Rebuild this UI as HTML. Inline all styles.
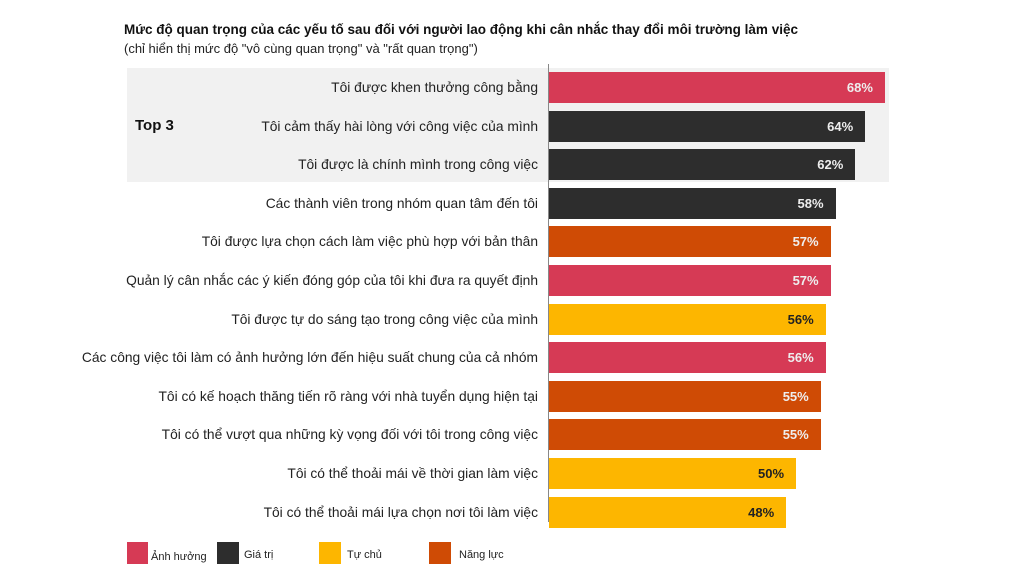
<!DOCTYPE html><html><head><meta charset="utf-8"><style>
body{margin:0;width:1024px;height:576px;background:#fff;font-family:"Liberation Sans",sans-serif;position:relative;overflow:hidden}
.a{position:absolute;white-space:nowrap}
.l{position:absolute;right:486px;font-size:13.8px;color:#222;white-space:nowrap}
.b{position:absolute;left:549px;height:31px}
.v{position:absolute;font-size:13px;font-weight:bold;white-space:nowrap}
</style></head><body>
<div class="a" style="left:124px;top:22px;font-size:13.5px;font-weight:bold;color:#111">Mức độ quan trọng của các yếu tố sau đối với người lao động khi cân nhắc thay đổi môi trường làm việc</div>
<div class="a" style="left:124px;top:41px;font-size:13px;color:#222">(chỉ hiển thị mức độ "vô cùng quan trọng" và "rất quan trọng")</div>
<div class="a" style="left:127px;top:68px;width:762px;height:114px;background:#f1f1f1"></div>
<div class="a" style="left:135px;top:117px;font-size:15px;font-weight:bold;color:#111">Top 3</div>
<div class="a" style="left:548px;top:64px;width:1px;height:458px;background:#888"></div>
<div id="c"></div>
<div class="a" style="left:127px;top:542px;width:21px;height:22px;background:#d63a55"></div>
<div class="a" style="left:151px;top:551px;font-size:11px;color:#222">Ảnh hưởng</div>
<div class="a" style="left:217px;top:542px;width:22px;height:22px;background:#2d2d2d"></div>
<div class="a" style="left:244px;top:549px;font-size:11px;color:#222">Giá trị</div>
<div class="a" style="left:319px;top:542px;width:22px;height:22px;background:#fdb600"></div>
<div class="a" style="left:347px;top:549px;font-size:11px;color:#222">Tự chủ</div>
<div class="a" style="left:429px;top:542px;width:22px;height:22px;background:#cf4b05"></div>
<div class="a" style="left:459px;top:549px;font-size:11px;color:#222">Năng lực</div>
<script>
var P="#d63a55",D="#2d2d2d",Y="#fdb600",O="#cf4b05";
var d=[["Tôi được khen thưởng công bằng",68,P],["Tôi cảm thấy hài lòng với công việc của mình",64,D],["Tôi được là chính mình trong công việc",62,D],["Các thành viên trong nhóm quan tâm đến tôi",58,D],["Tôi được lựa chọn cách làm việc phù hợp với bản thân",57,O],["Quản lý cân nhắc các ý kiến đóng góp của tôi khi đưa ra quyết định",57,P],["Tôi được tự do sáng tạo trong công việc của mình",56,Y],["Các công việc tôi làm có ảnh hưởng lớn đến hiệu suất chung của cả nhóm",56,P],["Tôi có kế hoạch thăng tiến rõ ràng với nhà tuyển dụng hiện tại",55,O],["Tôi có thể vượt qua những kỳ vọng đối với tôi trong công việc",55,O],["Tôi có thể thoải mái về thời gian làm việc",50,Y],["Tôi có thể thoải mái lựa chọn nơi tôi làm việc",48,Y]];
var h="";d.forEach(function(r,i){var t=72+i*38.6,w=r[1]*4.94;
h+='<div class="l" style="top:'+(t+8)+'px">'+r[0]+'</div>';
h+='<div class="b" style="top:'+t+'px;width:'+w+'px;background:'+r[2]+'"></div>';
h+='<div class="v" style="top:'+(t+8)+'px;left:'+(549+w-38)+'px;color:'+(r[2]==Y?"#222":"#eee")+'">'+r[1]+'%</div>';});
document.getElementById("c").innerHTML=h;
</script></body></html>
